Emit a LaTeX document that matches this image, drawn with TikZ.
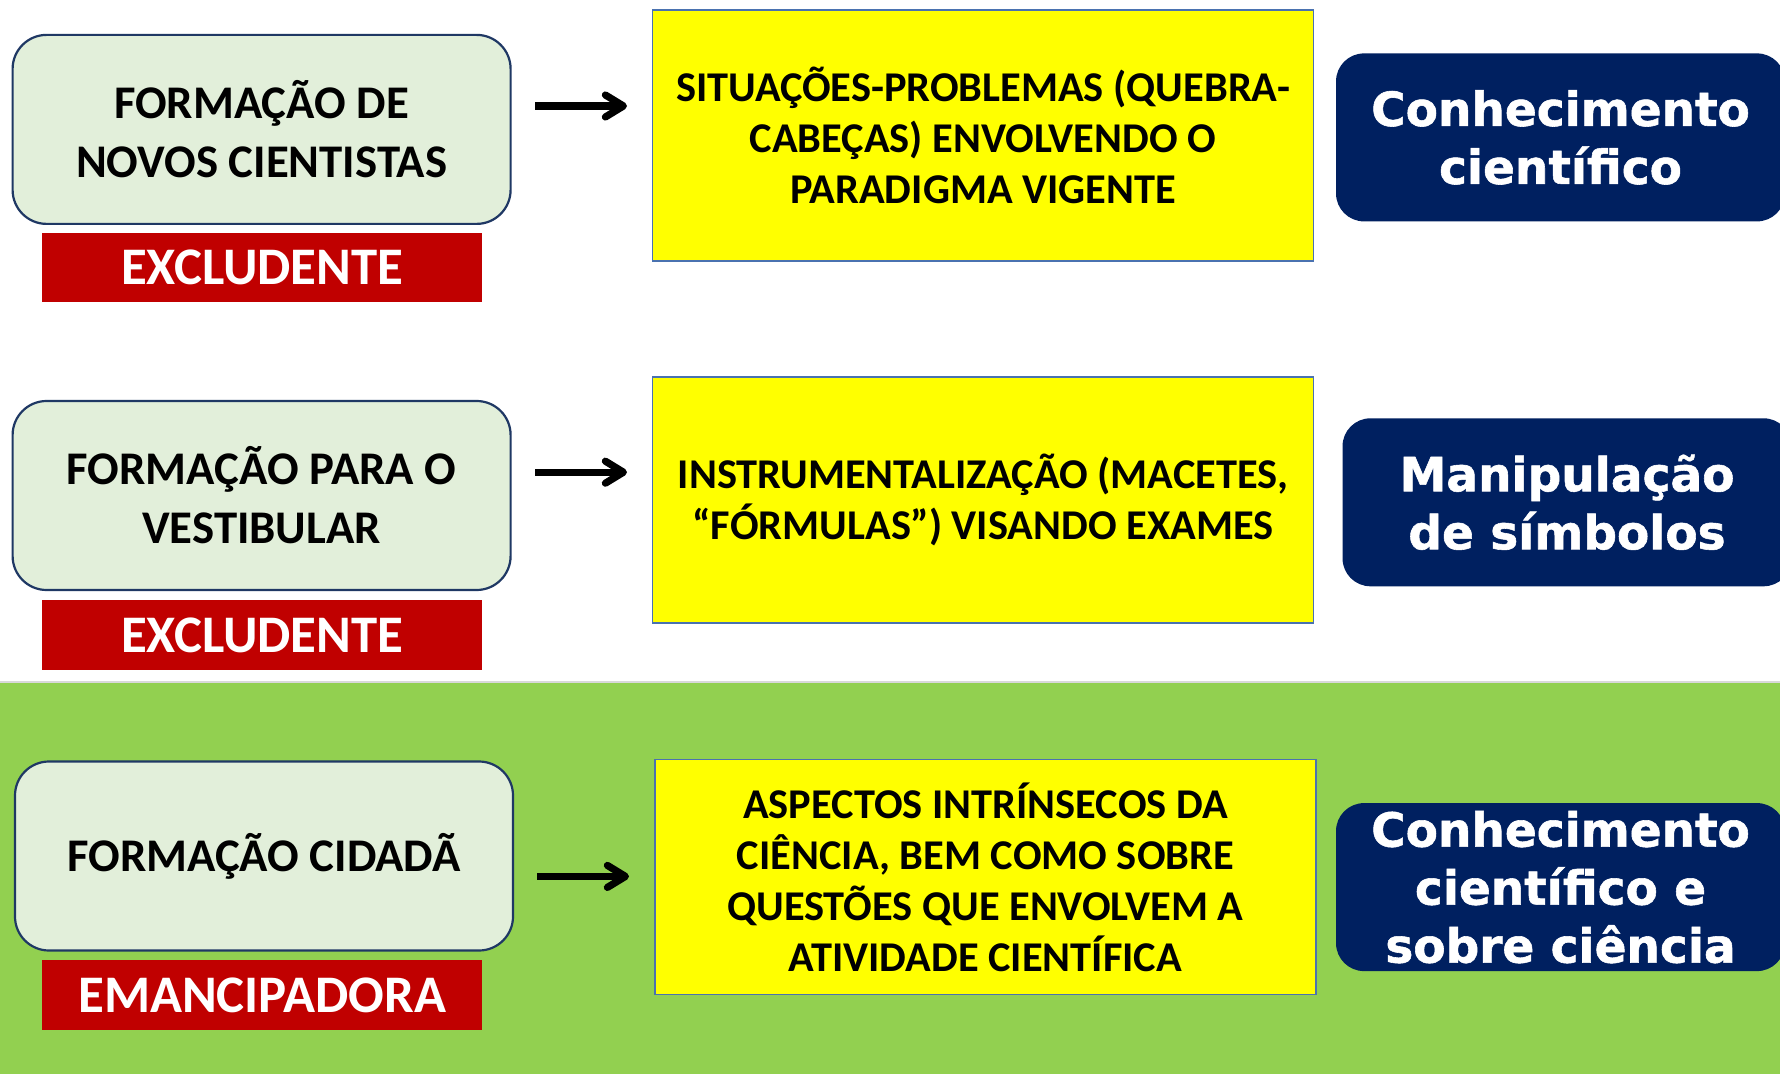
\documentclass[tikz,border=0pt]{standalone}
\usepackage{fontspec}
\setmainfont{Carlito}
\newfontfamily\navyfont{DejaVu Sans}[FakeBold=1.2]
\usetikzlibrary{arrows.meta}
\definecolor{bgreen}{HTML}{92D050}
\definecolor{lgreen}{HTML}{E2EFDA}
\definecolor{edgeblue}{HTML}{1F3864}
\definecolor{yborder}{HTML}{4A72B0}
\definecolor{redbox}{HTML}{C00000}
\definecolor{navy}{HTML}{002060}
\definecolor{ybright}{HTML}{FFFF00}
\tikzset{
  formbox/.style={draw=edgeblue, line width=1.1pt, fill=lgreen, rounded corners=17pt,
    minimum width=249pt, minimum height=94.5pt, align=center, inner sep=0pt,
    font=\fontsize{23.4}{29.5}\selectfont\bfseries},
  tagbox/.style={fill=redbox, minimum width=220.25pt, minimum height=34.75pt, inner sep=0pt,
    text=white, font=\fontsize{26.4}{30}\selectfont\bfseries},
  ybox/.style={draw=yborder, line width=0.8pt, fill=ybright, minimum width=330.35pt,
    align=center, inner sep=0pt, font=\fontsize{21.2}{25.5}\selectfont\bfseries},
  nbox/.style={fill=navy, rounded corners=14pt, minimum width=224.5pt, minimum height=84pt,
    align=center, inner sep=0pt, text=white, font=\navyfont\fontsize{23.5}{29}\selectfont\bfseries},
  arr/.style={line width=3.6pt, -{Straight Barb[length=9pt,width=11pt,line cap=round,line join=round]}}
}
\begin{document}
\begin{tikzpicture}[x=0.5pt,y=-0.5pt]
\useasboundingbox (0,0) rectangle (1780,1074);
\clip (0,0) rectangle (1780,1074);
\fill[white] (0,0) rectangle (1780,1074);
\fill[bgreen] (0,682) rectangle (1780,1074);
\draw[black!15, line width=0.6pt] (0,682) -- (1780,682);

% Row 1
\node[formbox] (g1) at (261.6,129.4) {FORMAÇÃO DE\\NOVOS CIENTISTAS};
\node[tagbox] (r1) at (262.2,267.4) {EXCLUDENTE};
\node[ybox, minimum height=125.45pt] (y1) at (983,135.6) {SITUAÇÕES-PROBLEMAS (QUEBRA-\\CABEÇAS) ENVOLVENDO O\\PARADIGMA VIGENTE};
\node[nbox] (n1) at (1560.5,137.4) {Conhecimento\\científico};
\coordinate (a1s) at (535,106);
\coordinate (a1e) at (627,106);
\draw[arr] (a1s) -- (a1e);

% Row 2
\node[formbox] (g2) at (261.6,495.5) {FORMAÇÃO PARA O\\VESTIBULAR};
\node[tagbox] (r2) at (262.2,635.2) {EXCLUDENTE};
\node[ybox, minimum height=123.15pt] (y2) at (983,500) {INSTRUMENTALIZAÇÃO (MACETES,\\“FÓRMULAS”) VISANDO EXAMES};
\node[nbox] (n2) at (1567,502.3) {Manipulação\\de símbolos};
\coordinate (a2s) at (535,472.2);
\coordinate (a2e) at (627,472.2);
\draw[arr] (a2s) -- (a2e);

% Row 3
\node[formbox] (g3) at (264,856) {FORMAÇÃO CIDADÃ};
\node[tagbox] (r3) at (262.2,995) {EMANCIPADORA};
\node[ybox, minimum height=117.5pt] (y3) at (985.4,877) {ASPECTOS INTRÍNSECOS DA\\CIÊNCIA, BEM COMO SOBRE\\QUESTÕES QUE ENVOLVEM A\\ATIVIDADE CIENTÍFICA};
\node[nbox] (n3) at (1560.5,887.1) {Conhecimento\\científico e\\sobre ciência};
\coordinate (a3s) at (537,876.4);
\coordinate (a3e) at (629,876.4);
\draw[arr] (a3s) -- (a3e);
\end{tikzpicture}
\end{document}
